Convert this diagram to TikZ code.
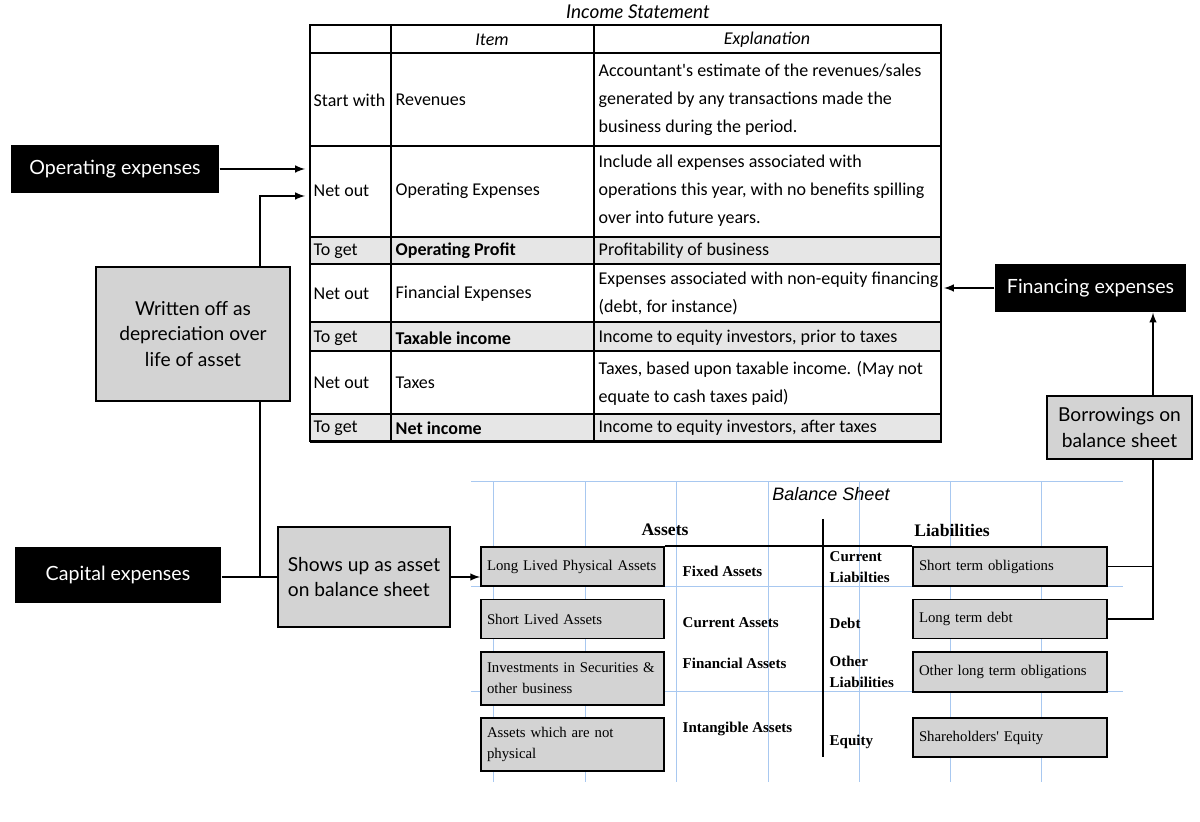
\documentclass[tikz,border=0pt]{standalone}
\usepackage{fontspec}
\setmainfont{Lato}
\newfontfamily\calfont{Carlito}
\newfontfamily\bsfont{Liberation Serif}
\newfontfamily\hvfont{Liberation Sans}
\definecolor{cellgray}{HTML}{E6E6E6}
\definecolor{boxgray}{HTML}{D3D3D3}
\definecolor{gridblue}{HTML}{A8C8F0}
\tikzset{
  blk/.style={fill=black,text=white,font=\fontsize{9.8}{12}\selectfont},
  gry/.style={draw,fill=boxgray,align=center,font=\fontsize{9.6}{12.75}\selectfont},
  cell/.style={anchor=west,align=left,inner sep=0pt,font=\calfont\fontsize{9}{14}\selectfont},
  hdr/.style={font=\calfont\itshape\fontsize{9}{14}\selectfont},
  bsbox/.style={draw,fill=boxgray,line width=0.9pt,align=left,inner xsep=3pt,inner ysep=0pt,font=\bsfont\fontsize{7.4}{10.5}\selectfont},
  bslab/.style={anchor=west,align=left,inner sep=0pt,font=\bsfont\bfseries\fontsize{7.5}{10.5}\selectfont},
  bluegrid/.style={gridblue,line width=0.5pt}
}
\begin{document}
\begin{tikzpicture}[x=0.5pt,y=-0.5pt,line width=0.7pt]
\useasboundingbox (0,0) rectangle (1200,822);
\node[font=\itshape\fontsize{9.5}{12}\selectfont] (ttl) at (638,12) {Income Statement};
\fill[cellgray] (310,237) rectangle (941,264);
\fill[cellgray] (310,322) rectangle (941,351);
\fill[cellgray] (310,414) rectangle (941,441);
\draw[] (310,25) rectangle (941,441);
\draw[line width=1.4pt] (941,26) -- (941,442) -- (310,442);
\draw[] (310,53) -- (941,53);
\draw[] (310,146) -- (941,146);
\draw[] (310,237) -- (941,237);
\draw[] (310,264) -- (941,264);
\draw[] (310,322) -- (941,322);
\draw[line width=1.3pt] (310,351) -- (941,351);
\draw[] (310,414) -- (941,414);
\draw[] (391,25) -- (391,441);
\draw[] (594,25) -- (594,441);
\node[hdr] (hi) at (492,40) {Item};
\node[hdr] (he) at (767,40) {Explanation};
\node[cell] (a1) at (313,100) {Start with};
\node[cell] (b1) at (395,100) {Revenues};
\node[cell] (c1) at (598,100) {Accountant's estimate of the revenues/sales\\generated by any transactions made the\\business during the period.};
\node[cell] (a2) at (313,191) {Net out};
\node[cell] (b2) at (395,191) {Operating Expenses};
\node[cell] (c2) at (598,191) {Include all expenses associated with\\operations this year, with no benefits spilling\\over into future years.};
\node[cell] (a3) at (313,251) {To get};
\node[cell] (b3) at (395,251) {\bfseries Operating Profit};
\node[cell] (c3) at (598,251) {Profitability of business};
\node[cell] (a4) at (313,294) {Net out};
\node[cell] (b4) at (395,294) {Financial Expenses};
\node[cell] (c4) at (598,294) {Expenses associated with non-equity financing\\(debt, for instance)};
\node[cell] (a5) at (313,338) {To get};
\node[cell] (b5) at (395,338) {\bfseries Taxable income};
\node[cell] (c5) at (598,338) {Income to equity investors, prior to taxes};
\node[cell] (a6) at (313,383) {Net out};
\node[cell] (b6) at (395,383) {Taxes};
\node[cell] (c6) at (598,383) {Taxes, based upon taxable income. (May not\\equate to cash taxes paid)};
\node[cell] (a7) at (313,428) {To get};
\node[cell] (b7) at (395,428) {\bfseries Net income};
\node[cell] (c7) at (598,428) {Income to equity investors, after taxes};
\coordinate (in1) at (305,169);
\coordinate (in2) at (305,196);
\coordinate (in3) at (944,288);
\coordinate (j1) at (260,577);
\coordinate (j2) at (1153,619);
\draw[bluegrid] (471,482) -- (1123,482) (471,587) -- (1123,587) (471,692) -- (1123,692);
\draw[bluegrid] (493,482) -- (493,782) (585,482) -- (585,782) (676,482) -- (676,782) (768,482) -- (768,782);
\draw[bluegrid] (859,482) -- (859,782) (950,482) -- (950,782) (1041,482) -- (1041,782);
\node[font=\hvfont\itshape\fontsize{9}{11}\selectfont] (bst) at (831,494) {Balance Sheet};
\node[font=\bsfont\bfseries\fontsize{8.8}{12}\selectfont] (ast) at (665,530) {Assets};
\node[font=\bsfont\bfseries\fontsize{8.8}{12}\selectfont] (lia) at (952,530) {Liabilities};
\draw[] (823,519) -- (823,757);
\node[bsbox, text width=85.5pt, minimum height=19.5pt] (bl0) at (572.5,566.5) {Long Lived Physical Assets};
\node[bsbox, text width=85.5pt, minimum height=19.5pt] (bl1) at (572.5,619) {Short Lived Assets};
\node[bsbox, text width=85.5pt, minimum height=26.5pt] (bl2) at (572.5,678.5) {Investments in Securities \&\\other business};
\node[bsbox, text width=85.5pt, minimum height=26.5pt] (bl3) at (572.5,744.5) {Assets which are not\\physical};
\node[bsbox, text width=91pt, minimum height=19.5pt] (br0) at (1010,566.5) {Short term obligations};
\node[bsbox, text width=91pt, minimum height=19.5pt] (br1) at (1010,619) {Long term debt};
\node[bsbox, text width=91pt, minimum height=20pt] (br2) at (1010,672) {Other long term obligations};
\node[bsbox, text width=91pt, minimum height=19.5pt] (br3) at (1010,737.5) {Shareholders' Equity};
\draw[] (bl0.north east) -- (br0.north west);
\node[bslab] (la0) at (682,571) {Fixed Assets};
\node[bslab] (la1) at (682,623) {Current Assets};
\node[bslab] (la2) at (682,663) {Financial Assets};
\node[bslab] (la3) at (682,729) {Intangible Assets};
\node[bslab] (lb0) at (829,567) {Current\\Liabilties};
\node[bslab] (lb1) at (829,623) {Debt};
\node[bslab] (lb2) at (829,672) {Other\\Liabilities};
\node[bslab] (lb3) at (829,742) {Equity};
\node[blk, minimum width=104pt, minimum height=24pt] (ope) at (115,169) {Operating expenses};
\node[gry, minimum width=97pt, minimum height=67pt] (wo) at (193,334) {Written off as\\depreciation over\\life of asset};
\node[blk, minimum width=103pt, minimum height=28pt] (cap) at (118,575) {Capital expenses};
\node[gry, minimum width=86pt, minimum height=50pt, align=left] (su) at (364,577) {Shows up as asset\\on balance sheet};
\node[blk, minimum width=95.5pt, minimum height=24pt] (fin) at (1090.5,288) {Financing expenses};
\node[gry, minimum width=72.5pt, minimum height=31.5pt] (bor) at (1119.5,427.5) {Borrowings on\\balance sheet};
\draw[-latex] (ope.east) -- (in1);
\draw[-latex] (j1 |- wo.north) |- (in2);
\draw[] (j1) -- (j1 |- wo.south);
\draw[] (cap.east |- j1) -- (su.west |- j1);
\draw[-latex] (su.east |- j1) -- (bl0.west |- j1);
\draw[-latex] (fin.west) -- (in3);
\draw[] (br0.east) -- (br0.east -| j2);
\draw[] (br1.east) -- (j2) -- (j2 |- bor.south);
\draw[-latex] (j2 |- bor.north) -- (j2 |- fin.south);
\end{tikzpicture}
\end{document}
